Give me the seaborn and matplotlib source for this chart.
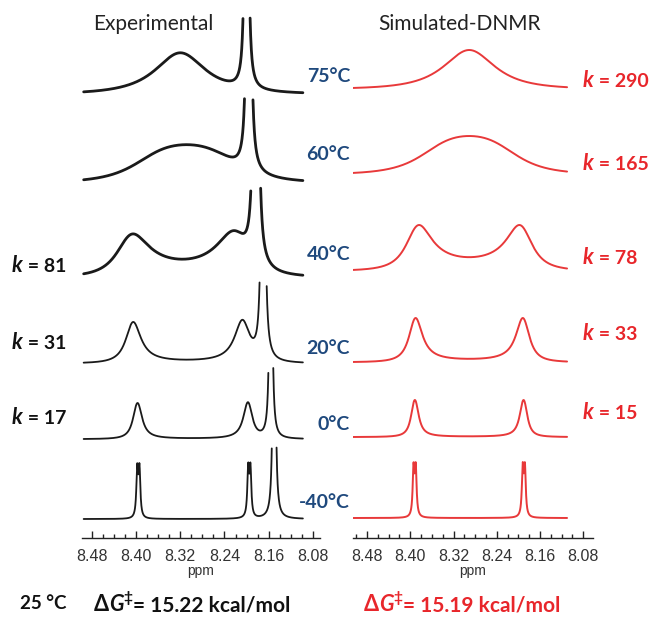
import numpy as np
import pandas as pd
import seaborn as sns
import matplotlib
matplotlib.use("Agg")
import matplotlib.pyplot as plt
from matplotlib.transforms import IdentityTransform
from matplotlib.ticker import MultipleLocator, FormatStrFormatter

sns.set_theme(style="white")
plt.rcParams["font.family"] = ["Lato", "DejaVu Sans"]

# ---- data ----
temps = ["75°C", "60°C", "40°C", "20°C", "0°C", "-40°C"]
spectrometer_mhz = 400.0
coupling_hz = 1.6

# experimental: exchanging pair + sharp clipped singlet
exp_rates = [300, 205, 81, 31, 17, 1]          # rates giving the drawn line shapes
exp_linewidth = [3.0, 3.0, 3.0, 3.0, 1.8, 1.2]  # Hz
exp_site_a = [8.420, 8.412, 8.417, 8.407, 8.398, 8.396]
exp_site_b = [8.220, 8.208, 8.214, 8.206, 8.197, 8.195]
exp_height = [40, 36, 42, 41, 36, 56]
sharp_ppm = [8.200, 8.196, 8.183, 8.170, 8.156, 8.150]
sharp_height = [2100, 3000, 4000, 2200, 1000, 1000]
sharp_hwhm = 0.0012
sharp_clip = [76, 83, 88, 81, 72, 72]
exp_k_labels = [None, None, "81", "31", "17", None]

# simulated DNMR
sim_rates = [290, 205, 70, 33, 15, 1]          # rates giving the drawn line shapes
sim_linewidth = 1.2
sim_site_a = 8.392
sim_site_b = 8.190
sim_height = [38, 37, 45, 44, 37, 56]
sim_k_labels = ["290", "165", "78", "33", "15", None]

# ---- layout (pixels from top) ----
W, H = 654, 617
AX_BOTTOM = 538
exp_base = [93, 181, 276, 363, 439, 519]
sim_base = [88, 173, 270, 362, 437, 518]
temp_y = [77, 155, 255, 348, 424, 502]
exp_k_y = [None, None, 272, 349, 424, None]
sim_k_y = [87, 170, 264, 340, 419, None]


def exchange(ppm, a, b, k, lw):
    nu = ppm * spectrometer_mhz
    r = np.pi * lw
    out = np.zeros_like(ppm)
    for s in (-0.5, 0.5):
        aa = r + k + 2j * np.pi * (nu - (a * spectrometer_mhz + s * coupling_hz))
        ab = r + k + 2j * np.pi * (nu - (b * spectrometer_mhz + s * coupling_hz))
        out += np.real(0.5 * (aa + ab + 2 * k) / (aa * ab - k * k))
    return (out - out.min()) / (out.max() - out.min())


rows = []
exp_grid = np.linspace(8.495, 8.098, 1600)
for i, t in enumerate(temps):
    y = exchange(exp_grid, exp_site_a[i], exp_site_b[i], exp_rates[i], exp_linewidth[i]) * exp_height[i]
    y = y + sharp_height[i] / (1 + ((exp_grid - sharp_ppm[i]) / sharp_hwhm) ** 2)
    y[y > sharp_clip[i]] = np.nan
    seg = np.cumsum(np.isnan(y))
    y = y + (AX_BOTTOM - exp_base[i])
    rows.append(pd.DataFrame({"panel": "exp", "temp": t, "ppm": exp_grid, "y": y,
                              "uid": [f"{t}-{s}" for s in seg]}))

sim_grid = np.linspace(8.508, 8.110, 1600)
for i, t in enumerate(temps):
    y = exchange(sim_grid, sim_site_a, sim_site_b, sim_rates[i], sim_linewidth) * sim_height[i]
    y = y + (AX_BOTTOM - sim_base[i])
    rows.append(pd.DataFrame({"panel": "sim", "temp": t, "ppm": sim_grid, "y": y, "uid": t}))

df = pd.concat(rows).dropna()

fig = plt.figure(figsize=(W / 100, H / 100), dpi=100)
ax_exp = fig.add_axes([82 / W, (H - AX_BOTTOM) / H, 238 / W, AX_BOTTOM / H])
ax_sim = fig.add_axes([353 / W, (H - AX_BOTTOM) / H, 240 / W, AX_BOTTOM / H])

noisy = df["temp"].isin(temps[:3])
d = df[(df.panel == "exp") & noisy]
sns.lineplot(data=d, x="ppm", y="y", units="uid", estimator=None, sort=False,
             color="#1a1a1a", linewidth=2.0, ax=ax_exp, legend=False)
d = df[(df.panel == "exp") & ~noisy]
sns.lineplot(data=d, x="ppm", y="y", units="uid", estimator=None, sort=False,
             color="#1a1a1a", linewidth=1.3, ax=ax_exp, legend=False)
d = df[df.panel == "sim"]
sns.lineplot(data=d, x="ppm", y="y", units="uid", estimator=None, sort=False,
             color="#e8393a", linewidth=1.4, ax=ax_sim, legend=False)

for ax, xl in ((ax_exp, (8.498, 8.067)), (ax_sim, (8.506, 8.062))):
    ax.set_xlim(*xl)
    ax.set_ylim(0, AX_BOTTOM)
    ax.set_facecolor("none")
    for sp in ("left", "top", "right"):
        ax.spines[sp].set_visible(False)
    ax.spines["bottom"].set_color("#222222")
    ax.spines["bottom"].set_linewidth(1.0)
    ax.set_yticks([])
    ax.set_ylabel("")
    ax.xaxis.set_major_locator(MultipleLocator(0.08))
    ax.xaxis.set_minor_locator(MultipleLocator(0.02))
    ax.xaxis.set_major_formatter(FormatStrFormatter("%.2f"))
    ax.tick_params(axis="x", which="both", direction="in", bottom=True, color="#222222",
                   labelsize=11.5, pad=8, labelcolor="#333333", labelfontfamily="Liberation Sans")
    ax.tick_params(axis="x", which="major", length=5, width=1)
    ax.tick_params(axis="x", which="minor", length=3, width=1)
    ax.set_xlabel("ppm", fontsize=10, labelpad=0, color="#333333", family="Liberation Sans")

ID = IdentityTransform()
renderer = fig.canvas.get_renderer()


def runs(x, y, parts, color):
    for s, kw in parts:
        kw = dict(kw)
        dy = kw.pop("dy", 0)
        t = fig.text(x, H - y + dy, s, transform=ID, va="baseline", ha="left",
                     color=color, **kw)
        x = t.get_window_extent(renderer).x1


fig.text(153, H - 24, "Experimental", transform=ID, ha="center", va="center",
         fontsize=15, color="#222222")
fig.text(460, H - 24, "Simulated-DNMR", transform=ID, ha="center", va="center",
         fontsize=15, color="#222222")

for t, ty in zip(temps, temp_y):
    fig.text(350, H - ty, t, transform=ID, ha="right", va="center", fontsize=14,
             fontweight="bold", color="#1f497d")

for lab, ky in zip(exp_k_labels, exp_k_y):
    if lab:
        runs(12, ky, [("k", dict(fontsize=15.5, fontweight="bold", style="italic")),
                      (" = " + lab, dict(fontsize=14, fontweight="bold"))], "#111111")
for lab, ky in zip(sim_k_labels, sim_k_y):
    if lab:
        runs(583, ky, [("k", dict(fontsize=15.5, fontweight="bold", style="italic")),
                       (" = " + lab, dict(fontsize=14, fontweight="bold"))], "#e8262b")

fig.text(20, H - 609, "25 °C", transform=ID, ha="left", va="baseline", fontsize=13.5,
         fontweight="bold", color="#111111")
dg = lambda v: [("Δ", dict(fontsize=15.5, fontweight="bold")),
                ("G", dict(fontsize=15.5, fontweight="bold", style="italic")),
                ("‡", dict(fontsize=11, fontweight="bold", dy=9)),
                ("= " + v + " kcal/mol", dict(fontsize=15, fontweight="bold"))]
runs(94, 611, dg("15.22"), "#111111")
runs(364, 611, dg("15.19"), "#e8262b")

fig.savefig("out.png", dpi=100)
